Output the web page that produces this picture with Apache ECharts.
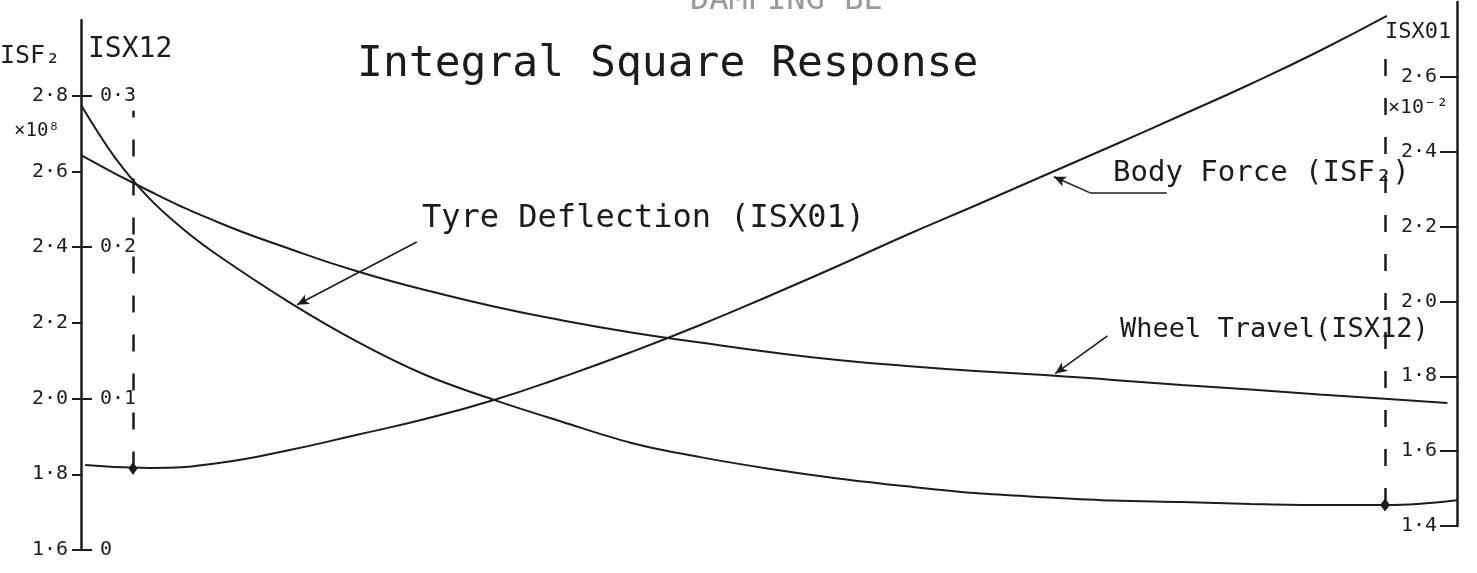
<!DOCTYPE html>
<html>
<head>
<meta charset="utf-8">
<script src="https://cdn.jsdelivr.net/npm/echarts@6/dist/echarts.min.js"></script>
<style>
  html, body { margin: 0; padding: 0; background: #ffffff; }
  #chart { width: 1477px; height: 573px; }
</style>
</head>
<body>
<div id="chart"></div>
<script>
// Damping setting along the horizontal axis (no scale drawn, 0–100)
const bodyForceX = [0.3, 5, 10, 15, 20, 25, 30, 35, 40, 45, 50, 55, 60, 65, 70, 75, 80, 85, 90, 94.9];
// Body force, ISF2 (×10^8)
const bodyForceISF2 = [1.8245, 1.8166, 1.8298, 1.8628, 1.9038, 1.9460, 1.9962, 2.0570, 2.1230, 2.1943,
                       2.2710, 2.3502, 2.4321, 2.5100, 2.5893, 2.6685, 2.7491, 2.8310, 2.9181, 3.0106];

const wheelTravelX = [0, 5, 10, 15, 20, 25, 30, 35, 40, 45, 50, 55, 60, 65, 70, 75, 80, 85, 90, 95, 99.3];
// Wheel travel, ISX12
const wheelTravelISX12 = [0.2608, 0.2369, 0.2163, 0.1994, 0.1842, 0.1717, 0.1608, 0.1516, 0.1436, 0.1370,
                          0.1308, 0.1255, 0.1215, 0.1182, 0.1156, 0.1123, 0.1090, 0.1060, 0.1027, 0.0997, 0.0971];

const tyreX = [0, 2.5, 5, 7.5, 10, 15, 20, 25, 30, 35, 40, 45, 50, 55, 60, 65, 70, 75, 80, 85, 90, 95, 100];
// Tyre deflection, ISX01 (×10^-2)
const tyreISX01 = [2.525, 2.383, 2.274, 2.191, 2.122, 2.001, 1.894, 1.804, 1.737, 1.678, 1.622, 1.584,
                   1.553, 1.527, 1.506, 1.488, 1.477, 1.468, 1.464, 1.459, 1.456, 1.456, 1.469];

// Optimum points with their vertical drop lines
const bodyForceOptimum = [3.78, 1.815];
const bodyForceDropTop = 2.76;
const tyreOptimum = [94.77, 1.456];
const tyreDropTop = 2.65;

// Tick values of the three scales
const isf2Ticks = [1.6, 1.8, 2.0, 2.2, 2.4, 2.6, 2.8];
const isx12Ticks = [0, 0.1, 0.2, 0.3];
const isx01Ticks = [1.4, 1.6, 1.8, 2.0, 2.2, 2.4, 2.6];

const INK = '#1c1c1c';
const FONT = '"DejaVu Sans Mono", monospace';

const zip = (xs, ys) => xs.map((x, i) => [x, ys[i]]);
const dotLabel = v => (v === 0 ? '0' : v.toFixed(1).replace('.', '·'));

const chart = echarts.init(document.getElementById('chart'), null, { renderer: 'canvas' });

const labelStyle = { color: INK, fontSize: 20, fontFamily: FONT };
const curveStyle = { color: INK, width: 2 };
const arrowStyle = { color: INK, width: 1.6, type: 'solid' };
const dropStyle = { color: INK, width: 2.5, type: [17, 22] };

chart.setOption({
  animation: false,
  backgroundColor: '#ffffff',
  grid: [
    { left: 81, right: 20, top: 20, bottom: 23 },
    { left: 81, right: 20, top: 2, bottom: 47 }
  ],
  xAxis: [
    { gridIndex: 0, type: 'value', min: 0, max: 100, show: false },
    { gridIndex: 1, type: 'value', min: 0, max: 100, show: false }
  ],
  yAxis: [
    {
      gridIndex: 0, type: 'value', position: 'left', min: 1.6, max: 3.0,
      axisLine: { show: true, onZero: false, lineStyle: { color: INK, width: 2.5 } },
      axisTick: { show: true, inside: false, length: 9, customValues: isf2Ticks, lineStyle: { color: INK, width: 2 } },
      axisLabel: Object.assign({ customValues: isf2Ticks, margin: 13, formatter: dotLabel }, labelStyle),
      splitLine: { show: false }
    },
    {
      gridIndex: 0, type: 'value', position: 'left', offset: 0, min: 0, max: 0.35,
      axisLine: { show: false, onZero: false },
      axisTick: { show: true, inside: true, length: 11, customValues: isx12Ticks, lineStyle: { color: INK, width: 2 } },
      axisLabel: Object.assign({ customValues: isx12Ticks, inside: true, margin: 19, formatter: dotLabel }, labelStyle),
      splitLine: { show: false }
    },
    {
      gridIndex: 1, type: 'value', position: 'right', min: 1.4, max: 2.8,
      axisLine: { show: true, onZero: false, lineStyle: { color: INK, width: 2.5 } },
      axisTick: { show: true, inside: true, length: 17, customValues: isx01Ticks, lineStyle: { color: INK, width: 2 } },
      axisLabel: Object.assign({ customValues: isx01Ticks, inside: true, margin: 20, formatter: dotLabel }, labelStyle),
      splitLine: { show: false }
    }
  ],
  series: [
    {
      name: 'Body Force (ISF₂)', type: 'line', xAxisIndex: 0, yAxisIndex: 0,
      data: zip(bodyForceX, bodyForceISF2),
      smooth: 0.5, symbol: 'none', clip: false,
      lineStyle: curveStyle,
      markPoint: {
        silent: true, symbol: 'diamond', symbolSize: [9, 13],
        itemStyle: { color: INK }, label: { show: false },
        data: [{ coord: bodyForceOptimum }]
      },
      markLine: {
        silent: true, symbol: ['none', 'none'], label: { show: false },
        data: [
          [{ coord: bodyForceOptimum, lineStyle: dropStyle },
           { coord: [bodyForceOptimum[0], bodyForceDropTop] }],
          [{ coord: [78.9, 2.544], lineStyle: arrowStyle }, { coord: [73.3, 2.544] }],
          [{ coord: [73.3, 2.544], lineStyle: arrowStyle },
           { coord: [70.7, 2.586], symbol: 'arrow', symbolSize: [8, 12] }]
        ]
      }
    },
    {
      name: 'Wheel Travel (ISX12)', type: 'line', xAxisIndex: 0, yAxisIndex: 1,
      data: zip(wheelTravelX, wheelTravelISX12),
      smooth: 0.5, symbol: 'none',
      lineStyle: curveStyle,
      markLine: {
        silent: true, symbol: ['none', 'none'], label: { show: false },
        data: [
          [{ coord: [74.6, 0.1414], lineStyle: arrowStyle },
           { coord: [70.8, 0.1165], symbol: 'arrow', symbolSize: [8, 12] }]
        ]
      }
    },
    {
      name: 'Tyre Deflection (ISX01)', type: 'line', xAxisIndex: 1, yAxisIndex: 2,
      data: zip(tyreX, tyreISX01),
      smooth: 0.35, symbol: 'none',
      lineStyle: curveStyle,
      markPoint: {
        silent: true, symbol: 'diamond', symbolSize: [10, 13],
        itemStyle: { color: INK }, label: { show: false },
        data: [{ coord: tyreOptimum }]
      },
      markLine: {
        silent: true, symbol: ['none', 'none'], label: { show: false },
        data: [
          [{ coord: tyreOptimum, lineStyle: dropStyle },
           { coord: [tyreOptimum[0], tyreDropTop] }],
          [{ coord: [24.4, 2.159], lineStyle: arrowStyle },
           { coord: [15.7, 1.991], symbol: 'arrow', symbolSize: [8, 12] }]
        ]
      }
    }
  ],
  graphic: [
    { type: 'text', left: 690, top: -15, silent: true,
      style: { text: 'DAMPING BE', font: '32px ' + FONT, fill: '#9a9a9a' } },
    { type: 'text', left: 357, top: 43, silent: true,
      style: { text: 'Integral Square Response', font: '43px ' + FONT, fill: INK } },
    { type: 'text', left: 0, top: 44, silent: true,
      style: { text: 'ISF₂', font: '25px ' + FONT, fill: INK } },
    { type: 'text', left: 88, top: 36, silent: true,
      style: { text: 'ISX12', font: '28px ' + FONT, fill: INK } },
    { type: 'text', left: 14, top: 122, silent: true,
      style: { text: '×10⁸', font: '19px ' + FONT, fill: INK } },
    { type: 'text', left: 1385, top: 21, silent: true,
      style: { text: 'ISX01', font: '22px ' + FONT, fill: INK } },
    { type: 'text', left: 1388, top: 98, silent: true,
      style: { text: '×10⁻²', font: '20px ' + FONT, fill: INK } },
    { type: 'text', left: 422, top: 203, silent: true,
      style: { text: 'Tyre Deflection (ISX01)', font: '32px ' + FONT, fill: INK } },
    { type: 'text', left: 1113, top: 159, silent: true,
      style: { text: 'Body Force (ISF₂)', font: '29px ' + FONT, fill: INK } },
    { type: 'text', left: 1120, top: 316, silent: true,
      style: { text: 'Wheel Travel(ISX12)', font: '27px ' + FONT, fill: INK } }
  ]
});
</script>
</body>
</html>
